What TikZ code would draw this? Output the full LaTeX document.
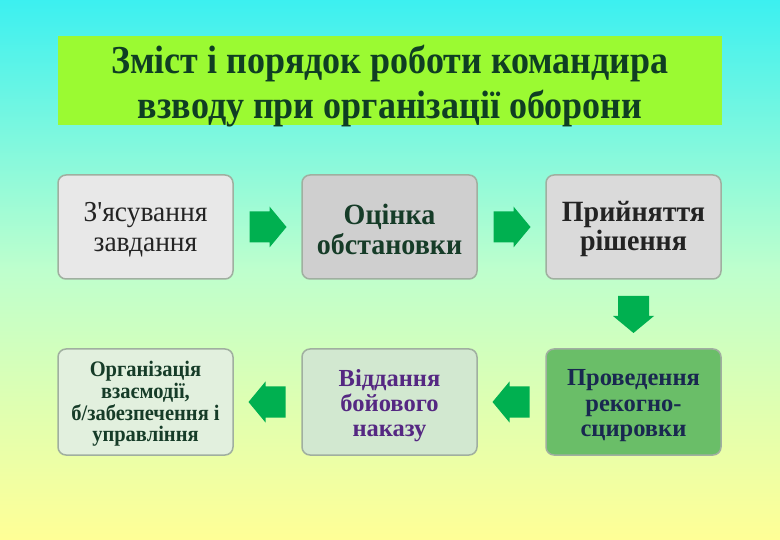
\documentclass[tikz,border=0pt]{standalone}
\usepackage{fontspec}
\usetikzlibrary{calc}
\setmainfont{Liberation Serif}[Ligatures=TeXOff]
\definecolor{bgtop}{RGB}{60,240,240}
\definecolor{bgmid}{RGB}{190,255,205}
\definecolor{bgbot}{RGB}{255,255,150}
\definecolor{titlefill}{RGB}{155,250,50}
\definecolor{titletext}{RGB}{15,62,35}
\definecolor{arrowgreen}{RGB}{0,176,80}
\definecolor{boxA}{RGB}{232,232,232}
\definecolor{boxB}{RGB}{207,207,207}
\definecolor{boxC}{RGB}{218,218,218}
\definecolor{boxD}{RGB}{226,240,222}
\definecolor{boxE}{RGB}{210,232,208}
\definecolor{boxF}{RGB}{106,190,104}
\definecolor{boxborder}{RGB}{160,175,160}
\definecolor{darkgreentext}{RGB}{22,60,40}
\definecolor{purpletext}{RGB}{85,40,130}
\definecolor{navytext}{RGB}{25,40,80}
\definecolor{graytext}{RGB}{35,35,35}
\tikzset{
  stepbox/.style={draw=boxborder, line width=1.5pt, rounded corners=8pt,
    minimum width=175pt, minimum height=104pt, inner sep=0pt},
  steptext/.style={align=center, inner sep=0pt},
  blockarrow/.style={fill=arrowgreen, draw=none}
}
\newcommand\stretchtext[5]{\scalebox{1}[#1]{\parbox{#5}{\centering\fontsize{#2}{#3}\selectfont\lineskiplimit=-100pt #4\par}}}
\newcommand\blockarr[2]{%
  \begin{scope}[shift={(#1)}, rotate=#2]
    \fill[blockarrow] (-18,-15.5) -- (2,-15.5) -- (2,-20.5) -- (19,0) -- (2,20.5) -- (2,15.5) -- (-18,15.5) -- cycle;
  \end{scope}}
\begin{document}
\begin{tikzpicture}[x=1pt,y=-1pt]
\useasboundingbox (0,0) rectangle (780,540);
\shade[top color=bgtop, bottom color=bgbot, middle color=bgmid] (0,0) rectangle (780,540);
% title
\node[fill=titlefill, minimum width=664pt, minimum height=89pt, inner sep=0pt]
  (titlebox) at (390,80.5) {};
\node[steptext, text=titletext, font=\bfseries]
  (title) at ($(titlebox.center)+(0,6)$) {\stretchtext{1.1}{36}{41}{Зміст і порядок роботи командира\\взводу при організації оборони}{660pt}};
% row 1 boxes
\node[stepbox, fill=boxA] (b1) at (145.5,227) {};
\node[stepbox, fill=boxB] (b2) at (389.5,227) {};
\node[stepbox, fill=boxC] (b3) at (633.5,227) {};
% row 2 boxes
\node[stepbox, fill=boxD, minimum height=106pt] (b4) at (145.5,402) {};
\node[stepbox, fill=boxE, minimum height=106pt] (b5) at (389.5,402) {};
\node[stepbox, fill=boxF, minimum height=106pt] (b6) at (633.5,402) {};
% texts
\node[steptext, text=graytext] (b1t) at ($(b1.center)+(0,3)$)
  {\stretchtext{1.05}{27.5}{29}{З'ясування\\завдання}{172pt}};
\node[steptext, text=darkgreentext, font=\bfseries] (b2t) at ($(b2.center)+(0,2)$)
  {\stretchtext{1.05}{28}{28.5}{Оцінка\\обстановки}{172pt}};
\node[steptext, text=graytext, font=\bfseries] (b3t) at ($(b3.center)+(0,2)$)
  {\stretchtext{1.05}{28}{27.5}{Прийняття\\рішення}{172pt}};
\node[steptext, text=darkgreentext, font=\bfseries] (b4t) at ($(b4.center)+(0,2)$)
  {\stretchtext{1.08}{20.5}{20}{Організація\\взаємодії,\\б/забезпечення і\\управління}{172pt}};
\node[steptext, text=purpletext, font=\bfseries] (b5t) at ($(b5.center)+(0,4)$)
  {\stretchtext{1}{24.5}{25}{Віддання\\бойового\\наказу}{172pt}};
\node[steptext, text=navytext, font=\bfseries] (b6t) at ($(b6.center)+(0,4)$)
  {\stretchtext{1}{24.5}{25.5}{Проведення\\рекогно-\\сцировки}{172pt}};
% arrows
\coordinate (a1) at ($(b1.east)!0.5!(b2.west)$);
\coordinate (a2) at ($(b2.east)!0.5!(b3.west)$);
\coordinate (a3) at ($(b3.south)!0.5!(b6.north)$);
\coordinate (a4) at ($(b6.west)!0.5!(b5.east)$);
\coordinate (a5) at ($(b5.west)!0.5!(b4.east)$);
\blockarr{a1}{0}
\blockarr{a2}{0}
\blockarr{a3}{-90}
\blockarr{a4}{180}
\blockarr{a5}{180}
\end{tikzpicture}
\end{document}
